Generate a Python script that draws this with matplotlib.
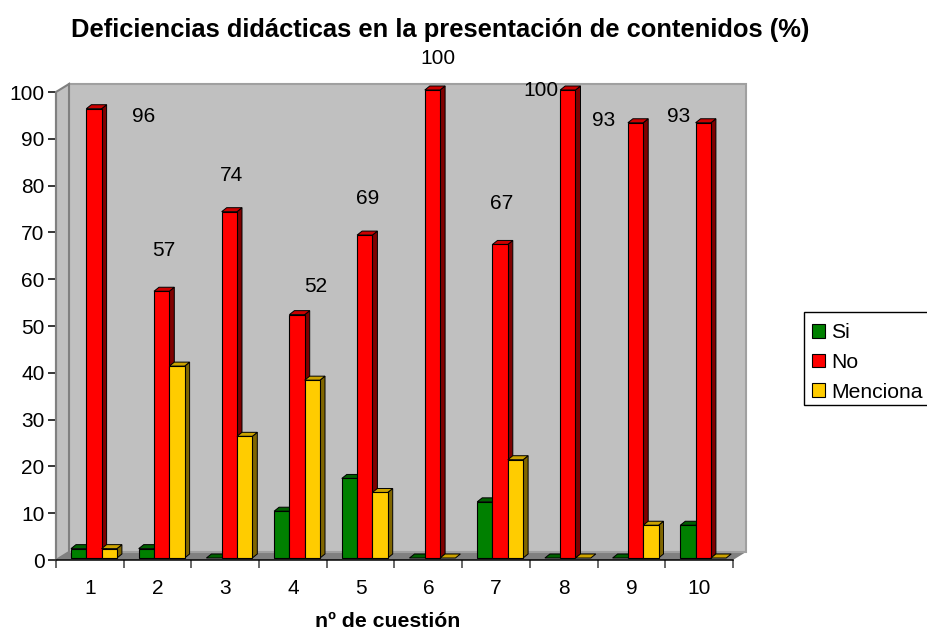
import matplotlib
matplotlib.use('Agg')
import matplotlib.pyplot as plt
from matplotlib.patches import Polygon, Patch, Rectangle

plt.rcParams['font.family'] = ['Liberation Sans', 'DejaVu Sans']

categories = ['1', '2', '3', '4', '5', '6', '7', '8', '9', '10']
si = [2, 2, 0, 10, 17, 0, 12, 0, 0, 7]
no = [96, 57, 74, 52, 69, 100, 67, 100, 93, 93]
menciona = [2, 41, 26, 38, 14, 0, 21, 0, 7, 0]
series_names = ['Si', 'No', 'Menciona']

# front, side, top colours per series
colors = [('#008000', '#004000', '#006000'),
          ('#FF0000', '#800000', '#CC0000'),
          ('#FFCC00', '#806600', '#CCA300')]

# the labels on the No bars sit away from their bars, figure pixels (x centre, y centre)
label_pos = [(144, 116), (164, 250), (232, 176), (316, 286), (368, 199),
             (438, 59), (502, 204), (541, 90), (604, 121), (679, 117)]

W, H = 928, 632
LEFT, RIGHT, TOP, BOTTOM = 56, 733, 92, 560

fig = plt.figure(figsize=(W / 100, H / 100), dpi=100)
ax = fig.add_axes([LEFT / W, 1 - BOTTOM / H, (RIGHT - LEFT) / W, (BOTTOM - TOP) / H])
ax.set_xlim(0, 10)
ax.set_ylim(0, 100)

# pixel to data units, for the fake 3D depth
px_x = 10 / (RIGHT - LEFT)
px_y = 100 / (BOTTOM - TOP)


def off(x, y, dx, dy):
    return (x + dx * px_x, y + dy * px_y)


def poly(points, color, edge='none', lw=0.0, z=1):
    ax.add_patch(Polygon(points, closed=True, facecolor=color, edgecolor=edge,
                         linewidth=lw, zorder=z, clip_on=False, joinstyle='miter'))


# walls and floor
depth_x, depth_y = 13, 8
poly([(0, 0), (10, 0), off(10, 0, depth_x, depth_y), off(0, 0, depth_x, depth_y)], '#808080')
poly([off(0, 0, depth_x, depth_y), off(10, 0, depth_x, depth_y),
      off(10, 100, depth_x, depth_y), off(0, 100, depth_x, depth_y)], '#C0C0C0', '#A0A0A0', 1.5)
poly([(0, 0), off(0, 0, depth_x, depth_y), off(0, 100, depth_x, depth_y), (0, 100)],
     '#C0C0C0', '#808080', 1.5)
ax.plot([0, 0], [0, 100], color='#808080', lw=1.5, zorder=2, clip_on=False)


def draw_bar(x0, width, value, cols, z):
    front, side, top = cols
    shift_x, shift_y = 4, 2
    bar_dx, bar_dy = 5, 4
    a = off(x0, 0, shift_x, shift_y)
    b = off(x0 + width, 0, shift_x, shift_y)
    c = off(x0 + width, value, shift_x, shift_y)
    d = off(x0, value, shift_x, shift_y)
    e = off(b[0], b[1], bar_dx, bar_dy)
    f = off(c[0], c[1], bar_dx, bar_dy)
    g = off(d[0], d[1], bar_dx, bar_dy)
    if value > 0:
        poly([b, c, f, e], side, 'black', 0.7, z)
    poly([d, c, f, g], top, 'black', 0.7, z)
    if value > 0:
        poly([a, b, c, d], front, 'black', 0.8, z)


bar_w = 15.3 / (RIGHT - LEFT) * 10
start = 11 / (RIGHT - LEFT) * 10
all_series = [si, no, menciona]
for i in range(len(categories)):
    for j, values in enumerate(all_series):
        draw_bar(i + start + j * bar_w, bar_w, values[i], colors[j], 3 + i + j * 0.1)

# axes
for name in ['top', 'right', 'left']:
    ax.spines[name].set_visible(False)
ax.spines['bottom'].set_linewidth(1.1)
ax.spines['bottom'].set_zorder(2.5)
ax.patch.set_visible(False)
ax.set_yticks(range(0, 101, 10))
ax.tick_params(axis='y', length=5.8, width=1.1, labelsize=15, pad=2.5, color='black')
ax.set_xticks(range(0, 11))
ax.set_xticklabels([])
ax.tick_params(axis='x', which='major', length=6, width=1.1, color='#404040')
ax.set_xticks([i + 0.5 for i in range(10)], minor=True)
ax.set_xticklabels(categories, minor=True, fontsize=15)
ax.tick_params(axis='x', which='minor', length=0, pad=14)

for value, (px, py) in zip(no, label_pos):
    fig.text(px / W, 1 - py / H, str(value), fontsize=15, ha='center', va='center')

fig.text(440 / W, 1 - 37 / H, 'Deficiencias didácticas en la presentación de contenidos (%)',
         fontsize=18.4, fontweight='bold', ha='center', va='baseline')
fig.text(388 / W, 1 - 627 / H, 'nº de cuestión', fontsize=15.3, fontweight='bold',
         ha='center', va='baseline')

# legend box drawn apart so the entries can sit a little low in it
fig.add_artist(Rectangle((804 / W, 1 - 405 / H), 130 / W, 93 / H, transform=fig.transFigure,
                         facecolor='white', edgecolor='black', linewidth=1.0))
handles = [Patch(facecolor=colors[k][0], edgecolor='black', linewidth=0.8)
           for k in range(3)]
leg = fig.legend(handles, series_names, loc='upper left',
                 bbox_to_anchor=(812 / W, 1 - 323.5 / H), borderaxespad=0, borderpad=0,
                 fontsize=15.2, frameon=False,
                 handlelength=0.62, handleheight=0.62, handletextpad=0.3,
                 labelspacing=0.5)

plt.savefig('out.png', dpi=100)
